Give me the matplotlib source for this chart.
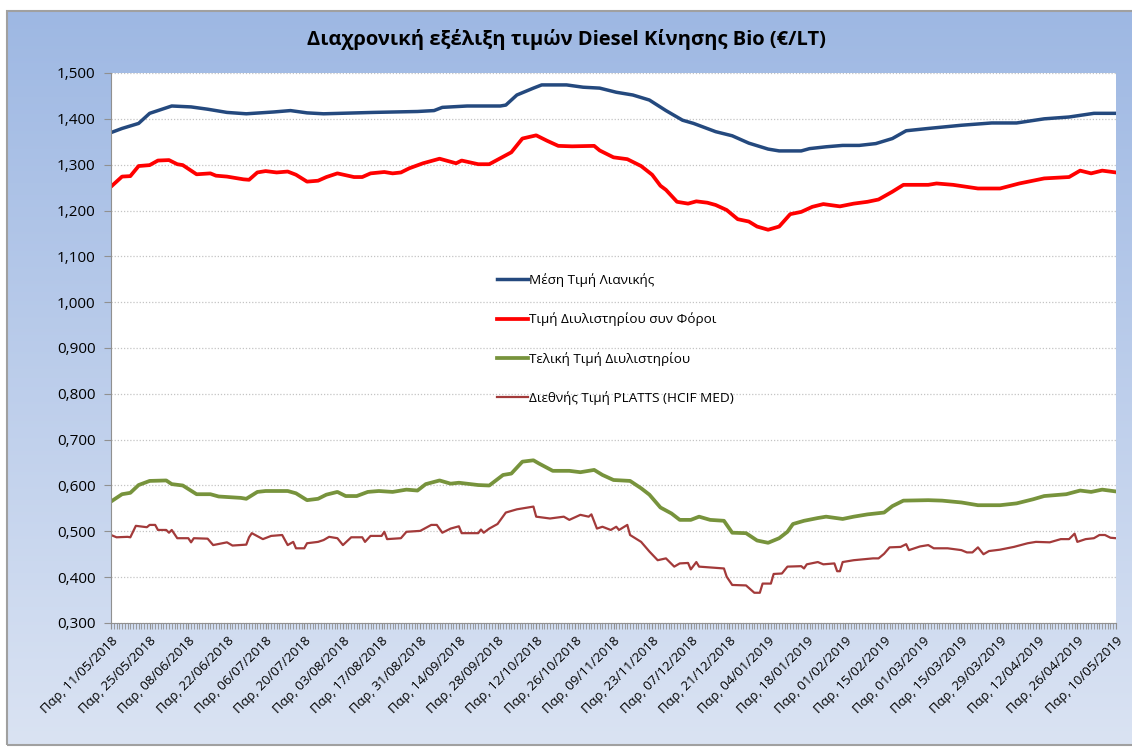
import matplotlib
matplotlib.use("Agg")
import matplotlib.pyplot as plt
import matplotlib.dates as mdates
import matplotlib.ticker as mticker
from matplotlib.patches import Rectangle
import numpy as np
import pandas as pd

plt.rcParams['font.family'] = ['Open Sans', 'DejaVu Sans']

title = "Διαχρονική εξέλιξη τιμών Diesel Κίνησης Bio (€/LT)"
start_date = "2018-05-11"
end_date = "2019-05-10"

# ημέρες από 11/05/2018 και τιμές (€/lt), διαβασμένα από το γράφημα
retail_label = "Μέση Τιμή Λιανικής"
retail_days = [0, 4, 10, 14, 22, 29, 35, 42, 49, 59, 65, 71, 77, 95, 111, 117, 120, 129,
               141, 143, 147, 153, 156, 165, 171, 177, 183, 189, 195, 201, 207, 211, 219,
               225, 231, 238, 242, 250, 253, 259, 265, 271, 277, 283, 288, 296, 308, 319,
               328, 338, 347, 356, 364]
retail_vals = [1.370, 1.379, 1.390, 1.412, 1.428, 1.426, 1.421, 1.414, 1.411, 1.415, 1.418,
               1.413, 1.411, 1.414, 1.416, 1.418, 1.425, 1.428, 1.428, 1.430, 1.452, 1.467,
               1.474, 1.474, 1.469, 1.467, 1.458, 1.452, 1.441, 1.418, 1.397, 1.390, 1.372,
               1.363, 1.347, 1.334, 1.330, 1.330, 1.335, 1.339, 1.342, 1.342, 1.346, 1.357,
               1.374, 1.379, 1.386, 1.391, 1.391, 1.400, 1.404, 1.412, 1.412]

refinery_tax_label = "Τιμή Διυλιστηρίου συν Φόροι"
refinery_tax_days = [0, 4, 7, 10, 14, 17, 21, 24, 26, 31, 36, 38, 42, 48, 50, 53, 56, 60, 64,
                     67, 71, 75, 78, 82, 88, 91, 94, 99, 102, 105, 108, 113, 119, 125, 127,
                     133, 137, 141, 145, 149, 154, 158, 162, 167, 175, 177, 182, 187, 192,
                     196, 199, 201, 205, 209, 212, 216, 219, 223, 227, 231, 234, 238, 242,
                     246, 250, 254, 258, 264, 269, 274, 278, 283, 287, 296, 299, 305, 314,
                     322, 329, 338, 347, 351, 355, 359, 364]
refinery_tax_vals = [1.252, 1.274, 1.275, 1.297, 1.299, 1.309, 1.310, 1.301, 1.299, 1.279,
                     1.281, 1.276, 1.274, 1.268, 1.267, 1.283, 1.286, 1.283, 1.285, 1.278,
                     1.263, 1.265, 1.273, 1.281, 1.273, 1.273, 1.281, 1.284, 1.281, 1.283,
                     1.292, 1.303, 1.313, 1.303, 1.309, 1.301, 1.301, 1.314, 1.327, 1.357,
                     1.364, 1.352, 1.341, 1.340, 1.341, 1.331, 1.316, 1.312, 1.297, 1.278,
                     1.254, 1.245, 1.219, 1.215, 1.220, 1.217, 1.212, 1.201, 1.181, 1.176,
                     1.165, 1.158, 1.165, 1.192, 1.197, 1.208, 1.214, 1.209, 1.215, 1.219,
                     1.224, 1.241, 1.256, 1.256, 1.259, 1.256, 1.248, 1.248, 1.259, 1.270,
                     1.273, 1.287, 1.281, 1.287, 1.283]

refinery_label = "Τελική Τιμή Διυλιστηρίου"
refinery_days = [0, 4, 7, 10, 14, 20, 22, 26, 31, 36, 39, 47, 49, 53, 56, 64, 67, 71, 75, 78,
                 82, 85, 89, 93, 97, 102, 107, 111, 114, 119, 123, 126, 133, 137, 142, 145,
                 149, 153, 155, 160, 166, 170, 175, 178, 182, 188, 192, 195, 199, 203, 206,
                 210, 213, 217, 222, 225, 230, 234, 238, 242, 245, 247, 251, 256, 259, 265,
                 269, 274, 280, 283, 287, 296, 301, 308, 314, 322, 328, 334, 338, 346, 351,
                 355, 359, 364]
refinery_vals = [0.565, 0.581, 0.584, 0.601, 0.610, 0.611, 0.603, 0.600, 0.581, 0.581, 0.576,
                 0.573, 0.571, 0.586, 0.588, 0.588, 0.583, 0.568, 0.571, 0.580, 0.586, 0.577,
                 0.577, 0.586, 0.588, 0.586, 0.591, 0.589, 0.603, 0.611, 0.604, 0.606, 0.601,
                 0.600, 0.623, 0.626, 0.652, 0.655, 0.648, 0.632, 0.632, 0.629, 0.634, 0.623,
                 0.612, 0.610, 0.594, 0.580, 0.552, 0.539, 0.525, 0.525, 0.532, 0.525, 0.523,
                 0.497, 0.496, 0.480, 0.475, 0.485, 0.499, 0.516, 0.523, 0.529, 0.532, 0.527,
                 0.532, 0.537, 0.541, 0.555, 0.567, 0.568, 0.567, 0.563, 0.557, 0.557, 0.561,
                 0.570, 0.577, 0.581, 0.589, 0.586, 0.591, 0.587]

platts_label = "Διεθνής Τιμή PLATTS (HCIF MED)"
platts_days = [0, 2, 6, 7, 9, 13, 14, 16, 17, 20, 21, 22, 24, 28, 29, 30, 35, 37, 42, 44, 49,
               50, 51, 55, 58, 62, 64, 66, 67, 70, 71, 75, 77, 79, 82, 84, 87, 91, 92, 94, 98,
               99, 100, 105, 107, 112, 116, 118, 120, 123, 126, 127, 133, 134, 135, 137, 140,
               143, 147, 151, 153, 154, 159, 164, 166, 170, 173, 174, 176, 178, 181, 183, 184,
               187, 188, 192, 195, 198, 201, 204, 206, 209, 210, 212, 213, 222, 223, 225, 230,
               233, 235, 236, 239, 240, 243, 245, 250, 251, 252, 256, 258, 262, 263, 264, 265,
               269, 276, 278, 280, 282, 286, 288, 289, 293, 296, 298, 303, 308, 310, 312, 314,
               316, 318, 322, 327, 332, 335, 340, 344, 347, 349, 350, 353, 356, 358, 360, 362,
               364]
platts_vals = [0.492, 0.487, 0.488, 0.487, 0.512, 0.509, 0.514, 0.514, 0.503, 0.503, 0.497,
               0.503, 0.485, 0.485, 0.476, 0.485, 0.484, 0.470, 0.476, 0.469, 0.471, 0.487,
               0.496, 0.483, 0.490, 0.492, 0.470, 0.477, 0.463, 0.463, 0.474, 0.477, 0.481,
               0.488, 0.485, 0.470, 0.487, 0.487, 0.477, 0.490, 0.490, 0.499, 0.483, 0.485,
               0.499, 0.501, 0.514, 0.514, 0.497, 0.506, 0.511, 0.496, 0.496, 0.504, 0.497,
               0.506, 0.516, 0.541, 0.548, 0.552, 0.554, 0.532, 0.528, 0.532, 0.525, 0.536,
               0.532, 0.537, 0.506, 0.510, 0.503, 0.510, 0.503, 0.514, 0.492, 0.477, 0.456,
               0.437, 0.441, 0.423, 0.430, 0.431, 0.417, 0.433, 0.423, 0.419, 0.401, 0.383,
               0.382, 0.366, 0.366, 0.386, 0.386, 0.407, 0.408, 0.423, 0.424, 0.419, 0.428,
               0.433, 0.428, 0.430, 0.413, 0.413, 0.433, 0.437, 0.441, 0.441, 0.451, 0.465,
               0.466, 0.472, 0.459, 0.467, 0.470, 0.463, 0.463, 0.459, 0.454, 0.454, 0.465,
               0.450, 0.457, 0.460, 0.466, 0.474, 0.477, 0.476, 0.483, 0.483, 0.495, 0.477,
               0.483, 0.485, 0.492, 0.492, 0.486, 0.485]

y_min, y_max, y_step = 0.3, 1.5, 0.1


def to_dates(days):
    return pd.Timestamp(start_date) + pd.to_timedelta(days, unit="D")


W, H = 1132, 747
fig = plt.figure(figsize=(W / 100, H / 100), dpi=100)
fig.patch.set_facecolor("white")

# φόντο με διαβάθμιση (στυλ Excel)
bg = fig.add_axes([7 / W, 2 / H, 1 - 7 / W, (H - 13) / H])
top_c = np.array([0x9E, 0xB8, 0xE3]) / 255
bot_c = np.array([0xDA, 0xE3, 0xF3]) / 255
t = np.linspace(0, 1, 256).reshape(256, 1, 1)
img = np.repeat(top_c + (bot_c - top_c) * t, 2, axis=1)
bg.imshow(img, aspect="auto", extent=[0, 1, 0, 1])
bg.set_axis_off()
fig.add_artist(Rectangle((7 / W, 2 / H), 1, (H - 13) / H, transform=fig.transFigure,
                         fill=False, edgecolor="#A0A0A0", linewidth=1.5, zorder=5))

ax = fig.add_axes([111 / W, 1 - 623 / H, (1116 - 111) / W, (623 - 73) / H])
ax.set_facecolor("white")

ax.plot(to_dates(retail_days), retail_vals, color="#24497E", linewidth=2.5, label=retail_label)
ax.plot(to_dates(refinery_tax_days), refinery_tax_vals, color="#FF0000", linewidth=2.7,
        label=refinery_tax_label)
ax.plot(to_dates(refinery_days), refinery_vals, color="#77933C", linewidth=2.7,
        label=refinery_label)
ax.plot(to_dates(platts_days), platts_vals, color="#A33A3A", linewidth=1.6, label=platts_label)

ax.set_xlim(pd.Timestamp(start_date), pd.Timestamp(end_date))
ax.set_ylim(y_min, y_max)
ax.yaxis.set_major_locator(mticker.MultipleLocator(y_step))
ax.yaxis.set_major_formatter(mticker.FuncFormatter(lambda v, p: f"{v:.3f}".replace(".", ",")))
ax.grid(axis="y", color="#C4C4C4", linestyle=(0, (1, 1.5)), linewidth=0.9)

tick_dates = pd.date_range(start_date, end_date, freq="14D")
ax.set_xticks(tick_dates)
ax.set_xticklabels(["Παρ, " + d.strftime("%d/%m/%Y") for d in tick_dates],
                   rotation=45, ha="right", rotation_mode="anchor", fontsize=9.5)
ax.xaxis.set_minor_locator(mdates.DayLocator(interval=1))
ax.tick_params(axis="x", which="both", length=4, color="#909090", pad=4)
ax.tick_params(axis="x", which="minor", width=0.6)
ax.tick_params(axis="y", length=5, color="#909090", labelsize=11, pad=6)

for side in ["top", "right"]:
    ax.spines[side].set_visible(False)
for side in ["left", "bottom"]:
    ax.spines[side].set_color("#909090")

fig.text(0.5, 1 - 40 / H, title, ha="center", va="center", fontsize=14.5, fontweight="bold")

ax.legend(loc="upper left", bbox_to_anchor=(497 / W, 1 - 273 / H),
          bbox_transform=fig.transFigure, frameon=False, fontsize=9.7,
          handlelength=2.3, handletextpad=0.1, labelspacing=1.9, borderpad=0, borderaxespad=0)

fig.savefig("out.png", dpi=100)
